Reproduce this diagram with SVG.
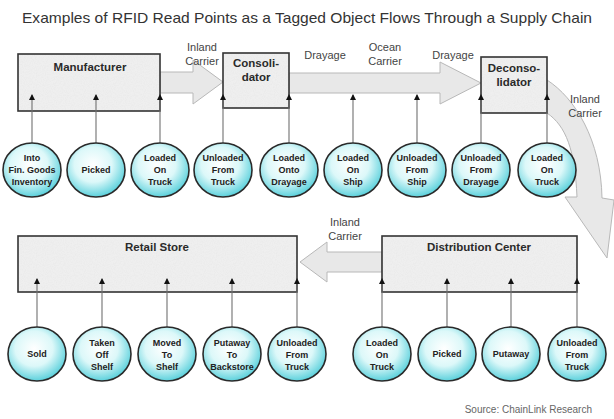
<svg xmlns="http://www.w3.org/2000/svg" width="614" height="419" viewBox="0 0 614 419">
<style>
.title{font-family:"Liberation Sans",Arial,sans-serif;font-size:15px;fill:#333}
.lbl{font-family:"Liberation Sans",Arial,sans-serif;font-size:11px;fill:#444;text-anchor:middle}
.box{fill:url(#speck);stroke:#333;stroke-width:1.6}
.btxt{font-family:"Liberation Sans",Arial,sans-serif;font-size:11.5px;font-weight:bold;fill:#2a2a2a;text-anchor:middle}
.flow{fill:#e8e8e8;stroke:#b8b8b8;stroke-width:1}
.circ{fill:url(#cyan);stroke:#2a2a2a;stroke-width:1.6}
.ctxt{font-family:"Liberation Sans",Arial,sans-serif;font-size:9px;font-weight:bold;fill:#222;text-anchor:middle}
.conn{stroke:#707070;stroke-width:1.1;fill:none;marker-end:url(#tip)}
.src{font-family:"Liberation Sans",Arial,sans-serif;font-size:10px;fill:#666}
</style>
<defs>
<radialGradient id="cyan" cx="0.45" cy="0.4" r="0.65">
<stop offset="0" stop-color="#ffffff"/>
<stop offset="0.5" stop-color="#dcf8f9"/>
<stop offset="1" stop-color="#45cad7"/>
</radialGradient>
<filter id="noise" x="0" y="0" width="100%" height="100%">
<feTurbulence type="fractalNoise" baseFrequency="0.9" numOctaves="2" result="n"/>
<feColorMatrix type="matrix" values="0 0 0 0 0.6  0 0 0 0 0.6  0 0 0 0 0.6  0 0 0 0.9 -0.3"/>
</filter>
<pattern id="speck" patternUnits="userSpaceOnUse" width="60" height="60">
<rect width="60" height="60" fill="#efefef"/>
<rect width="60" height="60" filter="url(#noise)" opacity="0.3"/>
</pattern>
<marker id="tip" markerUnits="userSpaceOnUse" markerWidth="6" markerHeight="6" refX="5" refY="3" orient="auto">
<path d="M0,0 L6,3 L0,6 z" fill="#111"/>
</marker>
</defs>
<rect width="614" height="419" fill="#ffffff"/>
<text class="title" x="307" y="23" text-anchor="middle" textLength="570" lengthAdjust="spacingAndGlyphs">Examples of RFID Read Points as a Tagged Object Flows Through a Supply Chain</text>

<g id="flows">
<path class="flow" d="M160,72 L193,72 L193,60 L223,82 L193,104 L193,93 L160,93 Z"/>
<path class="flow" d="M289,73 L440,73 L440,62 L481,83 L440,104 L440,93 L289,93 Z"/>
<path class="flow" d="M547,80 C575,98 601,140 602,198 L614,200 L607,258 L565,197 L577,197 C575,150 566,126 547,113 Z"/>
<path class="flow" d="M382,252 L327,252 L327,242 L300,262 L327,282 L327,272 L382,272 Z"/>
<text class="lbl" x="202" y="51">Inland</text>
<text class="lbl" x="202" y="65">Carrier</text>
<text class="lbl" x="325" y="59">Drayage</text>
<text class="lbl" x="385" y="51">Ocean</text>
<text class="lbl" x="385" y="65">Carrier</text>
<text class="lbl" x="453" y="59">Drayage</text>
<text class="lbl" x="585" y="103">Inland</text>
<text class="lbl" x="585" y="117">Carrier</text>
<text class="lbl" x="345" y="226">Inland</text>
<text class="lbl" x="345" y="240">Carrier</text>
</g>

<g id="manufacturer"><rect class="box" x="18" y="54" width="142" height="57"/><text class="btxt" x="90" y="71">Manufacturer</text></g>
<g id="consolidator"><rect class="box" x="223" y="53" width="66" height="55"/><text class="btxt" x="256" y="67">Consoli-</text><text class="btxt" x="256" y="81">dator</text></g>
<g id="deconsolidator"><rect class="box" x="481" y="57" width="66" height="56"/><text class="btxt" x="514" y="72">Deconso-</text><text class="btxt" x="514" y="86">lidator</text></g>
<g id="retail-store"><rect class="box" x="18" y="236" width="279" height="56"/><text class="btxt" x="157" y="251">Retail Store</text></g>
<g id="distribution-center"><rect class="box" x="382" y="236" width="195" height="56"/><text class="btxt" x="479" y="251">Distribution Center</text></g>

<g id="connectors">
<line class="conn" x1="32" y1="143" x2="32" y2="95"/>
<line class="conn" x1="96" y1="143" x2="96" y2="95"/>
<line class="conn" x1="160" y1="143" x2="160" y2="95"/>
<line class="conn" x1="223" y1="143" x2="223" y2="95"/>
<line class="conn" x1="289" y1="143" x2="289" y2="95"/>
<line class="conn" x1="353" y1="143" x2="353" y2="95"/>
<line class="conn" x1="417" y1="143" x2="417" y2="95"/>
<line class="conn" x1="481" y1="143" x2="481" y2="95"/>
<line class="conn" x1="547" y1="143" x2="547" y2="95"/>
<line class="conn" x1="37" y1="327" x2="37" y2="279"/>
<line class="conn" x1="102" y1="327" x2="102" y2="279"/>
<line class="conn" x1="167" y1="327" x2="167" y2="279"/>
<line class="conn" x1="232" y1="327" x2="232" y2="279"/>
<line class="conn" x1="297" y1="327" x2="297" y2="279"/>
<line class="conn" x1="382" y1="327" x2="382" y2="279"/>
<line class="conn" x1="447" y1="327" x2="447" y2="279"/>
<line class="conn" x1="511" y1="327" x2="511" y2="279"/>
<line class="conn" x1="577" y1="327" x2="577" y2="279"/>
</g>

<g id="rp-into-inventory"><ellipse class="circ" cx="32" cy="170" rx="29" ry="27"/><text class="ctxt" x="32" y="161">Into</text><text class="ctxt" x="32" y="173">Fin. Goods</text><text class="ctxt" x="32" y="185">Inventory</text></g>
<g id="rp-picked-1"><ellipse class="circ" cx="96" cy="170" rx="29" ry="27"/><text class="ctxt" x="96" y="173">Picked</text></g>
<g id="rp-loaded-truck-1"><ellipse class="circ" cx="160" cy="170" rx="29" ry="27"/><text class="ctxt" x="160" y="161">Loaded</text><text class="ctxt" x="160" y="173">On</text><text class="ctxt" x="160" y="185">Truck</text></g>
<g id="rp-unloaded-truck-1"><ellipse class="circ" cx="223" cy="170" rx="29" ry="27"/><text class="ctxt" x="223" y="161">Unloaded</text><text class="ctxt" x="223" y="173">From</text><text class="ctxt" x="223" y="185">Truck</text></g>
<g id="rp-loaded-drayage"><ellipse class="circ" cx="289" cy="170" rx="29" ry="27"/><text class="ctxt" x="289" y="161">Loaded</text><text class="ctxt" x="289" y="173">Onto</text><text class="ctxt" x="289" y="185">Drayage</text></g>
<g id="rp-loaded-ship"><ellipse class="circ" cx="353" cy="170" rx="29" ry="27"/><text class="ctxt" x="353" y="161">Loaded</text><text class="ctxt" x="353" y="173">On</text><text class="ctxt" x="353" y="185">Ship</text></g>
<g id="rp-unloaded-ship"><ellipse class="circ" cx="417" cy="170" rx="29" ry="27"/><text class="ctxt" x="417" y="161">Unloaded</text><text class="ctxt" x="417" y="173">From</text><text class="ctxt" x="417" y="185">Ship</text></g>
<g id="rp-unloaded-drayage"><ellipse class="circ" cx="481" cy="170" rx="29" ry="27"/><text class="ctxt" x="481" y="161">Unloaded</text><text class="ctxt" x="481" y="173">From</text><text class="ctxt" x="481" y="185">Drayage</text></g>
<g id="rp-loaded-truck-2"><ellipse class="circ" cx="547" cy="170" rx="29" ry="27"/><text class="ctxt" x="547" y="161">Loaded</text><text class="ctxt" x="547" y="173">On</text><text class="ctxt" x="547" y="185">Truck</text></g>

<g id="rp-sold"><ellipse class="circ" cx="37" cy="354" rx="29" ry="27"/><text class="ctxt" x="37" y="357">Sold</text></g>
<g id="rp-taken-off-shelf"><ellipse class="circ" cx="102" cy="354" rx="29" ry="27"/><text class="ctxt" x="102" y="346">Taken</text><text class="ctxt" x="102" y="358">Off</text><text class="ctxt" x="102" y="370">Shelf</text></g>
<g id="rp-moved-to-shelf"><ellipse class="circ" cx="167" cy="354" rx="29" ry="27"/><text class="ctxt" x="167" y="346">Moved</text><text class="ctxt" x="167" y="358">To</text><text class="ctxt" x="167" y="370">Shelf</text></g>
<g id="rp-putaway-backstore"><ellipse class="circ" cx="232" cy="354" rx="29" ry="27"/><text class="ctxt" x="232" y="346">Putaway</text><text class="ctxt" x="232" y="358">To</text><text class="ctxt" x="232" y="370">Backstore</text></g>
<g id="rp-unloaded-truck-3"><ellipse class="circ" cx="297" cy="354" rx="29" ry="27"/><text class="ctxt" x="297" y="346">Unloaded</text><text class="ctxt" x="297" y="358">From</text><text class="ctxt" x="297" y="370">Truck</text></g>
<g id="rp-loaded-truck-3"><ellipse class="circ" cx="382" cy="354" rx="29" ry="27"/><text class="ctxt" x="382" y="346">Loaded</text><text class="ctxt" x="382" y="358">On</text><text class="ctxt" x="382" y="370">Truck</text></g>
<g id="rp-picked-2"><ellipse class="circ" cx="447" cy="354" rx="29" ry="27"/><text class="ctxt" x="447" y="357">Picked</text></g>
<g id="rp-putaway"><ellipse class="circ" cx="511" cy="354" rx="29" ry="27"/><text class="ctxt" x="511" y="357">Putaway</text></g>
<g id="rp-unloaded-truck-4"><ellipse class="circ" cx="577" cy="354" rx="29" ry="27"/><text class="ctxt" x="577" y="346">Unloaded</text><text class="ctxt" x="577" y="358">From</text><text class="ctxt" x="577" y="370">Truck</text></g>

<text class="src" x="592" y="413" text-anchor="end">Source: ChainLink Research</text>
</svg>
